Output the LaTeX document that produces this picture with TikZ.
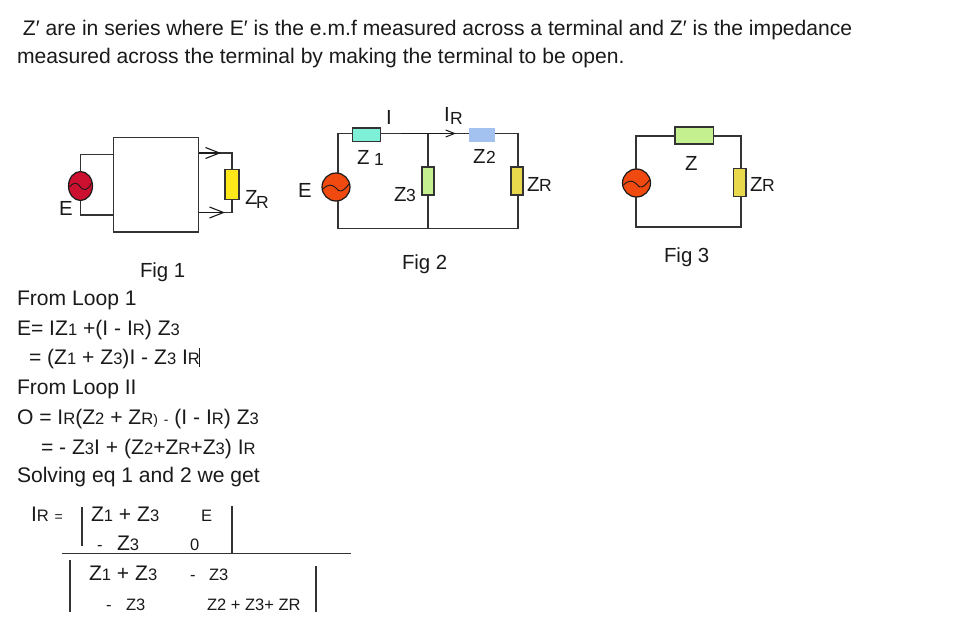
\documentclass[tikz,border=0pt]{standalone}
\usepackage{fontspec}
\setmainfont{Liberation Sans}
\usetikzlibrary{arrows.meta,shapes.geometric}
\newcommand{\sm}[1]{{\fontsize{16.6}{18}\selectfont #1}}
\newcommand{\xs}[1]{{\fontsize{14}{15}\selectfont #1}}
\definecolor{ink}{HTML}{1A1A1A}
\definecolor{wire}{HTML}{333333}
\definecolor{srcred}{HTML}{F04A10}
\definecolor{srcdark}{HTML}{CC1030}
\definecolor{teal}{HTML}{7FF0D8}
\definecolor{paleblue}{HTML}{A4C2F0}
\definecolor{palegreen}{HTML}{C4F090}
\definecolor{mustard}{HTML}{EAD84C}
\definecolor{brightyellow}{HTML}{FFE81A}
\tikzset{
  txt/.style={inner sep=0pt,outer sep=0pt,anchor=base west,text=ink,font=\fontsize{21.1}{24}\selectfont},
  figtxt/.style={inner sep=0pt,outer sep=0pt,anchor=base west,text=ink,font=\fontsize{20.4}{24}\selectfont},
  mid/.style={inner sep=0pt,outer sep=0pt,anchor=base west,text=ink,font=\fontsize{17.5}{20}\selectfont},
  lowtxt/.style={inner sep=0pt,outer sep=0pt,anchor=base west,text=ink,font=\fontsize{16.5}{18}\selectfont},
  wireline/.style={draw=wire,line width=1.3pt},
  barline/.style={draw=wire,line width=1.2pt},
  imp/.style={draw=wire,line width=1.1pt,inner sep=0pt,outer sep=0pt,rectangle},
  src/.style={draw=ink,line width=1.2pt,circle,inner sep=0pt,outer sep=0pt,minimum size=28pt,fill=srcred},
  opentip/.style={-{Straight Barb[length=14pt,width=11pt,line width=1.1pt]},draw=ink,line width=1.2pt},
}
\begin{document}
\begin{tikzpicture}[x=1pt,y=-1pt]
\useasboundingbox[fill=white] (0,0) rectangle (955,621);

% header text
\node[txt] (t1) at (23,35) {Z′ are in series where E′ is the e.m.f measured across a terminal and Z′ is the impedance};
\node[txt] (t2) at (17,63) {measured across the terminal by making the terminal to be open.};

% Fig 1
\node[draw=wire,line width=1.3pt,minimum width=85pt,minimum height=94.5pt,inner sep=0pt,outer sep=0pt] (box) at (156,184.75) {};
\node[draw=ink,line width=1.2pt,ellipse,fill=srcdark,minimum width=24pt,minimum height=29pt,inner sep=0pt,outer sep=0pt] (s1) at (80.5,186) {};
\draw[ink,line width=0.9pt,shift={(s1.center)}] (-11,1) .. controls (-6,-5) and (-3,-3) .. (0,1) .. controls (3,5) and (7,5) .. (11,-3);
\node[imp,fill=brightyellow,minimum width=14pt,minimum height=29.5pt] (zr1) at (232,184.5) {};
\coordinate (c1a) at (113.5,154.5);
\coordinate (c1b) at (113.5,215);
\coordinate (c1c) at (198.5,153);
\coordinate (c1d) at (198.5,212.5);
\coordinate (c1e) at (221,153);
\coordinate (c1f) at (225,212.5);
\draw[wireline] (s1.north) |- (c1a);
\draw[wireline] (s1.south) |- (c1b);
\draw[wireline] (zr1.north) |- (c1c);
\draw[wireline] (zr1.south) |- (c1d);
\draw[opentip] (c1c) -- (c1e);
\draw[opentip] (c1d) -- (c1f);
\node[figtxt] (e1) at (59,215) {E};
\node[figtxt] (z1z) at (245,204) {Z};
\node[mid] (z1r) at (256,208) {R};
\node[figtxt] (f1) at (140,277) {Fig 1};

% Fig 2
\coordinate (n2tl) at (338,133.5);
\coordinate (n2tr) at (518,133.5);
\coordinate (n2bl) at (338,228.5);
\coordinate (n2br) at (518,228.5);
\coordinate (n2tm) at (428,133.5);
\coordinate (n2bm) at (428,228.5);
\node[src] (s2) at (336,187) {};
\draw[ink,line width=0.9pt,shift={(s2.center)}] (-13,2) .. controls (-8,-3) and (-4,-3) .. (0,1) .. controls (3,6) and (7,5) .. (13,-3);
\node[imp,fill=teal,minimum width=28pt,minimum height=13.5pt] (z21) at (366.5,134.75) {};
\node[inner sep=0pt,outer sep=0pt,fill=paleblue,minimum width=26pt,minimum height=14pt] (z22) at (482,135) {};
\node[imp,fill=palegreen,minimum width=12pt,minimum height=28pt] (z23) at (428,181) {};
\node[imp,fill=mustard,minimum width=12pt,minimum height=28pt] (z2r) at (517,181) {};
\draw[wireline] (n2tl |- s2.north) -- (n2tl) -- (z21.west |- n2tl);
\draw[wireline] (z21.east |- n2tl) -- (z22.west |- n2tl);
\draw[wireline] (z22.east |- n2tl) -- (n2tr) -- (n2tr |- z2r.north);
\draw[wireline] (n2tr |- z2r.south) -- (n2br) -- (n2bl) -- (n2bl |- s2.south);
\draw[wireline] (n2tm) -- (z23.north);
\draw[wireline] (z23.south) -- (n2bm);
\coordinate (a2s) at (401,133.5);
\coordinate (a2e) at (456,133.5);
\draw[-{Straight Barb[length=9pt,width=7pt,line width=1pt]},draw=ink,line width=1.2pt] (a2s) -- (a2e);
\node[figtxt] (l2i) at (386,124) {I};
\node[figtxt] (l2ir) at (444,121) {I};
\node[mid] (l2r) at (450,124) {R};
\node[figtxt] (l2z1) at (357,164) {Z};
\node[mid] (l2z1n) at (374,165) {1};
\node[figtxt] (l2z2) at (473,163) {Z};
\node[mid] (l2z2n) at (486,163) {2};
\node[figtxt] (l2z3) at (394,201) {Z};
\node[mid] (l2z3n) at (406,201) {3};
\node[figtxt] (l2zr) at (527,191) {Z};
\node[mid] (l2zrr) at (539,191) {R};
\node[figtxt] (l2e) at (298,197) {E};
\node[figtxt] (f2) at (402,269) {Fig 2};

% Fig 3
\coordinate (n3tl) at (636,136);
\coordinate (n3tr) at (741,136);
\coordinate (n3bl) at (636,227);
\coordinate (n3br) at (741,227);
\node[src] (s3) at (636.5,183) {};
\draw[ink,line width=0.9pt,shift={(s3.center)}] (-13,2) .. controls (-8,-3) and (-4,-3) .. (0,1) .. controls (3,6) and (7,5) .. (13,-3);
\node[imp,fill=palegreen,minimum width=38.5pt,minimum height=17pt] (z3z) at (694.25,135.5) {};
\node[imp,fill=mustard,minimum width=12.5pt,minimum height=28pt] (z3r) at (739.75,182.5) {};
\draw[wireline] (n3tl |- s3.north) -- (n3tl) -- (z3z.west |- n3tl);
\draw[wireline] (z3z.east |- n3tl) -- (n3tr) -- (n3tr |- z3r.north);
\draw[wireline] (n3tr |- z3r.south) -- (n3br) -- (n3bl) -- (n3bl |- s3.south);
\node[figtxt] (l3z) at (685,170) {Z};
\node[figtxt] (l3zr) at (750,191) {Z};
\node[mid] (l3r) at (762,191) {R};
\node[figtxt] (f3) at (664,262) {Fig 3};

% equations
\node[txt] (e1l) at (17,305) {From Loop 1};
\node[txt] (e2l) at (17,335) {E= IZ\sm{1} +(I - I\sm{R}) Z\sm{3}};
\node[txt] (e3l) at (29,364) {= (Z\sm{1} + Z\sm{3})I - Z\sm{3} I\sm{R}};
\coordinate (cura) at (199.5,348);
\coordinate (curb) at (199.5,367);
\draw[ink,line width=0.5pt] (cura) -- (curb);
\node[txt] (e4l) at (17,394) {From Loop II};
\node[txt] (e5l) at (17,424) {O = I\sm{R}(Z\sm{2} + Z\sm{R}\xs{)} \xs{-} (I - I\sm{R}) Z\sm{3}};
\node[txt] (e6l) at (41,454) {= - Z\sm{3}I + (Z\sm{2}+Z\sm{R}+Z\sm{3}) I\sm{R}};
\node[txt] (e7l) at (17,482) {Solving eq 1 and 2 we get};

% determinant fraction
\node[txt] (ir) at (31,521) {I\sm{R} \xs{=}};
\node[txt] (n11) at (91,521) {Z\sm{1} + Z\sm{3}};
\node[lowtxt] (n12) at (201,521) {E};
\node[lowtxt] (n21m) at (97,550) {-};
\node[txt] (n21) at (117,550) {Z\sm{3}};
\node[lowtxt] (n22) at (190,550) {0};
\node[txt] (d11) at (89,580) {Z\sm{1} + Z\sm{3}};
\node[lowtxt] (d12m) at (190,580) {-};
\node[lowtxt] (d12) at (209,580) {Z3};
\node[lowtxt] (d21m) at (106,610) {-};
\node[lowtxt] (d21) at (126,610) {Z3};
\node[lowtxt] (d22) at (207,610) {Z2 + Z3+ ZR};
\coordinate (fa) at (62,553.5);
\coordinate (fb) at (351,553.5);
\draw[barline] (fa) -- (fb);
\coordinate (b1a) at (82,507); \coordinate (b1b) at (82,546);
\coordinate (b2a) at (232,506); \coordinate (b2b) at (232,553);
\coordinate (b3a) at (70,560); \coordinate (b3b) at (70,612);
\coordinate (b4a) at (316,566); \coordinate (b4b) at (316,612);
\draw[barline] (b1a) -- (b1b);
\draw[barline] (b2a) -- (b2b);
\draw[barline] (b3a) -- (b3b);
\draw[barline] (b4a) -- (b4b);
\end{tikzpicture}
\end{document}
